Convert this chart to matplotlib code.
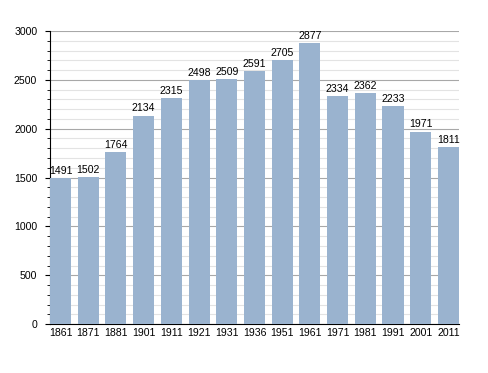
import numpy as np
import matplotlib.pyplot as plt
from matplotlib.ticker import MultipleLocator

plt.rcParams['font.family'] = ['Liberation Sans', 'DejaVu Sans']

years = ['1861', '1871', '1881', '1901', '1911', '1921', '1931', '1936',
         '1951', '1961', '1971', '1981', '1991', '2001', '2011']
population = [1491, 1502, 1764, 2134, 2315, 2498, 2509, 2591,
              2705, 2877, 2334, 2362, 2233, 1971, 1811]

fig = plt.figure(figsize=(4.88, 3.73), dpi=100)
ax = fig.add_axes([0.1025, 0.131, 0.838, 0.786])

x = np.arange(len(years))
w = 0.76
ax.bar(x, population, width=w, color='#9ab3cf', zorder=3)
for xi, v in zip(x, population):
    ax.text(xi, v + 22, str(v), ha='center', va='bottom', fontsize=7.6, zorder=4)

ax.set_xlim(-w / 2, len(years) - 1 + w / 2)
ax.set_ylim(0, 3000)
ax.set_xticks(x)
ax.set_xticklabels(years, fontsize=7.6)
ax.tick_params(axis='x', length=0, pad=3)
ax.yaxis.set_major_locator(MultipleLocator(500))
ax.yaxis.set_minor_locator(MultipleLocator(100))
ax.tick_params(axis='y', which='major', length=3.6, labelsize=7.6, pad=5.6)
ax.tick_params(axis='y', which='minor', length=2.2)
ax.grid(axis='y', which='minor', color='#e3e3e3', lw=0.8, zorder=0)
ax.grid(axis='y', which='major', color='#a8a8a8', lw=0.8, zorder=1)
for s in ['top', 'right']:
    ax.spines[s].set_visible(False)

fig.savefig('out.png', dpi=100)
